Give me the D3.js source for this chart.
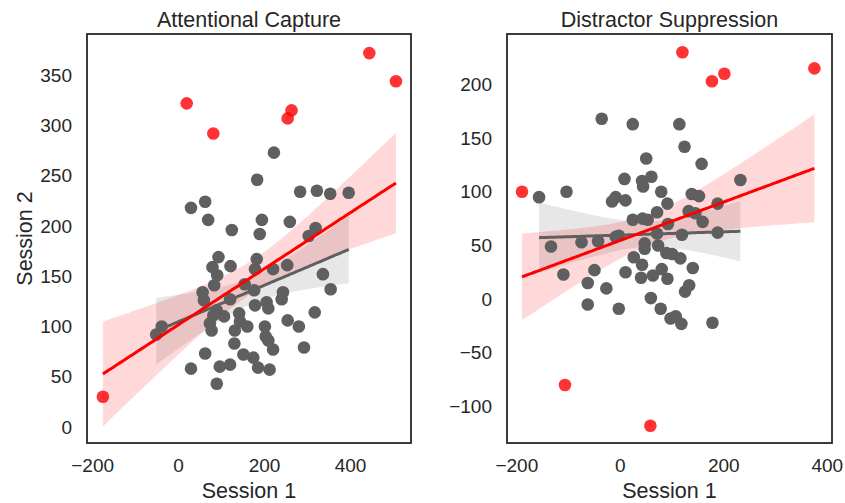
<!DOCTYPE html>
<html>
<head>
<meta charset="utf-8">
<script src="https://cdn.jsdelivr.net/npm/d3@7"></script>
<style>
  body { margin: 0; background: #fff; }
  svg { display: block; }
</style>
</head>
<body>
<script>
// Session 1 / Session 2 values, gray = kept, red = outliers
const capture_gray_x = [223, 184, 284, 323, 354, 397, 30, 63, 70, 195, 260, 125, 190, 320, 304, 94, 183, 80, 122, 254,
  179, 221, 91, 337, 84, 155, 177, 57, 244, 355, 60, 121, 241, 179, 206, 210, 90, 82, 142, 107,
  318, -38, -51, 74, 78, 144, 161, 132, 202, 255, 281, 204, 210, 131, 221, 293, 63, 152, 175, 30,
  97, 121, 186, 213, 90]
const capture_gray_y = [273, 246, 234, 235, 232, 233, 218, 224, 206, 206, 204, 196, 192, 198, 190, 169, 167, 159, 160, 161,
  157, 157, 151, 152, 141, 142, 136, 134, 134, 137, 126, 127, 127, 121, 124, 118, 116, 111, 113, 110,
  114, 100, 92, 103, 96, 105, 100, 96, 100, 106, 100, 90, 86, 83, 77, 79, 73, 72, 69, 58,
  60, 62, 59, 57, 43]
const capture_red_x = [20, 82, 264, 255, 445, 507, -175]
const capture_red_y = [322, 292, 315, 307, 372, 344, 30]

const suppression_gray_x = [-156, -103, -35, 25, 115, 125, 51, 158, 233, 9, 43, 61, 45, 80, 139, 153, -15, -8, 11, 92,
  189, 72, 133, 146, 25, 44, 54, 160, 93, -133, -74, -42, -8, -2, 72, 120, 189, 48, 48, 74,
  90, 101, 117, 27, 43, 141, -109, -49, 11, 41, 64, 81, 92, -62, -26, 134, 126, -62, -2, 60,
  79, 98, 108, 119, 179]
const suppression_gray_y = [95, 100, 168, 163, 163, 142, 131, 126, 111, 112, 110, 114, 105, 100, 98, 96, 91, 95, 92, 89,
  89, 81, 82, 80, 74, 75, 74, 72, 70, 49, 53, 54, 58, 59, 61, 60, 62, 52, 47, 50,
  43, 42, 38, 39, 32, 29, 23, 27, 25, 20, 22, 28, 19, 15, 10, 13, 7, -5, -9, 1,
  -9, -18, -16, -23, -22]
const suppression_red_x = [-189, -106, 59, 121, 178, 202, 376]
const suppression_red_y = [100, -80, -118, 230, 203, 210, 215]

const capture_x_ticks = [-200, 0, 200, 400]
const capture_y_ticks = [0, 50, 100, 150, 200, 250, 300, 350]
const suppression_x_ticks = [-200, 0, 200, 400]
const suppression_y_ticks = [-100, -50, 0, 50, 100, 150, 200]

const width = 845
const height = 503
const ink = '#262626'
const font = "'Liberation Sans', Arial, sans-serif"
const label_size = 21.5
const tick_size = 19

const zip = (xs, ys) => xs.map((x, i) => ({x, y: ys[i]}))

const panels = [
  {
    title: 'Attentional Capture',
    gray: zip(capture_gray_x, capture_gray_y),
    red: zip(capture_red_x, capture_red_y),
    x_ticks: capture_x_ticks, y_ticks: capture_y_ticks,
    x_dom: [-212, 542], y_dom: [-16, 391],
    box: {left: 87, right: 411, top: 34, bottom: 443},
    y_label: 'Session 2',
  },
  {
    title: 'Distractor Suppression',
    gray: zip(suppression_gray_x, suppression_gray_y),
    red: zip(suppression_red_x, suppression_red_y),
    x_ticks: suppression_x_ticks, y_ticks: suppression_y_ticks,
    x_dom: [-218, 410], y_dom: [-134, 247],
    box: {left: 507, right: 832, top: 34, bottom: 443},
    y_label: null,
  },
]

function translate(dx, dy) {
  return `translate(${dx}, ${dy})`
}

const fmt = v => v < 0 ? '\u2212' + Math.abs(v) : String(v)

/** ordinary least squares with a 95% band for the mean */
function fit(pts) {
  const n = pts.length
  const mx = d3.mean(pts, p => p.x)
  const my = d3.mean(pts, p => p.y)
  const sxx = d3.sum(pts, p => (p.x - mx) ** 2)
  const sxy = d3.sum(pts, p => (p.x - mx) * (p.y - my))
  const b = sxy / sxx
  const a = my - b * mx
  const s = Math.sqrt(d3.sum(pts, p => (p.y - a - b * p.x) ** 2) / (n - 2))
  const t = 1.995
  const [x0, x1] = d3.extent(pts, p => p.x)
  const grid = d3.range(100).map(i => x0 + (x1 - x0) * i / 99)
  return grid.map(x => {
    const yh = a + b * x
    const se = s * Math.sqrt(1 / n + (x - mx) ** 2 / sxx)
    return {x, y: yh, lo: yh - t * se, hi: yh + t * se}
  })
}

const svg = d3.select('body').append('svg')
  .attr('width', width)
  .attr('height', height)
  .attr('font-family', font)

panels.forEach((p, k) => {
  const {box} = p
  const x = d3.scaleLinear().domain(p.x_dom).range([box.left, box.right])
  const y = d3.scaleLinear().domain(p.y_dom).range([box.bottom, box.top])

  const g = svg.append('g')
  const clip = 'clip' + k
  g.append('clipPath').attr('id', clip)
    .append('rect')
      .attr('x', box.left).attr('y', box.top)
      .attr('width', box.right - box.left).attr('height', box.bottom - box.top)

  const plot = g.append('g').attr('clip-path', `url(#${clip})`)

  const gray_fit = fit(p.gray)
  const red_fit = fit(p.gray.concat(p.red))

  const area = d3.area().x(d => x(d.x)).y0(d => y(d.lo)).y1(d => y(d.hi))
  const line = d3.line().x(d => x(d.x)).y(d => y(d.y))

  plot.append('path').attr('d', area(gray_fit)).attr('fill', '#5f5f5f').attr('fill-opacity', 0.15)
  plot.append('path').attr('d', area(red_fit)).attr('fill', '#ff0000').attr('fill-opacity', 0.15)

  plot.append('g')
    .selectAll('circle')
    .data(p.gray)
    .join('circle')
      .attr('cx', d => x(d.x))
      .attr('cy', d => y(d.y))
      .attr('r', 6.3)
      .attr('fill', '#5f5f5f')

  plot.append('g')
    .selectAll('circle')
    .data(p.red)
    .join('circle')
      .attr('cx', d => x(d.x))
      .attr('cy', d => y(d.y))
      .attr('r', 6.3)
      .attr('fill', '#ff0000')
      .attr('fill-opacity', 0.8)

  plot.append('path').attr('d', line(gray_fit)).attr('fill', 'none')
    .attr('stroke', '#5f5f5f').attr('stroke-width', 3)
  plot.append('path').attr('d', line(red_fit)).attr('fill', 'none')
    .attr('stroke', '#ff0000').attr('stroke-width', 3)

  // axes without tick marks (seaborn white style)
  const xa = g.append('g')
    .attr('transform', translate(0, box.bottom))
    .call(d3.axisBottom(x).tickValues(p.x_ticks).tickFormat(fmt).tickSize(0).tickPadding(16))
  const ya = g.append('g')
    .attr('transform', translate(box.left, 0))
    .call(d3.axisLeft(y).tickValues(p.y_ticks).tickFormat(fmt).tickSize(0).tickPadding(15))
  ;[xa, ya].forEach(a => {
    a.select('.domain').remove()
    a.selectAll('text').attr('font-size', tick_size).attr('fill', ink).attr('font-family', font)
  })

  g.append('rect')
    .attr('x', box.left).attr('y', box.top)
    .attr('width', box.right - box.left).attr('height', box.bottom - box.top)
    .attr('fill', 'none').attr('stroke', ink).attr('stroke-width', 1.8)

  const cx = (box.left + box.right) / 2
  g.append('text')
    .attr('x', cx).attr('y', 27)
    .attr('text-anchor', 'middle').attr('font-size', label_size).attr('fill', ink)
    .text(p.title)

  g.append('text')
    .attr('x', cx).attr('y', 498)
    .attr('text-anchor', 'middle').attr('font-size', label_size).attr('fill', ink)
    .text('Session 1')

  if (p.y_label) {
    g.append('text')
      .attr('transform', translate(31.5, (box.top + box.bottom) / 2) + ' rotate(-90)')
      .attr('text-anchor', 'middle').attr('font-size', label_size).attr('fill', ink)
      .text(p.y_label)
  }
})
</script>
</body>
</html>
